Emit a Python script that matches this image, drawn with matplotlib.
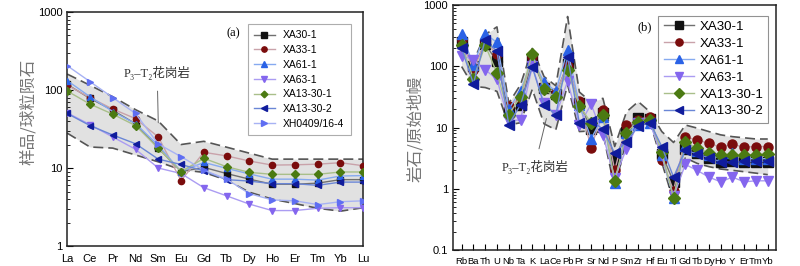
import numpy as np
import matplotlib
matplotlib.use('Agg')
import matplotlib.pyplot as plt

plt.rcParams['font.family'] = ['Liberation Sans', 'DejaVu Sans']

# ---- data: (a) chondrite-normalised REE ----
ree = ['La', 'Ce', 'Pr', 'Nd', 'Sm', 'Eu', 'Gd', 'Tb', 'Dy', 'Ho', 'Er', 'Tm', 'Yb', 'Lu']
names_a = ['XA30-1', 'XA33-1', 'XA61-1', 'XA63-1', 'XA13-30-1', 'XA13-30-2', 'XH0409/16-4']
xa30_1_a = [118, 78, 55, 37, 18, 9.0, 10.2, 8.5, 7.2, 6.2, 6.2, 6.4, 7.1, 7.1]
xa33_1_a = [115, 80, 57, 43, 25, 6.9, 15.9, 14.3, 12.3, 10.9, 11.0, 11.2, 11.7, 10.7]
xa61_1_a = [132, 82, 53, 37, 19.5, 9.0, 11.8, 9.9, 8.4, 7.2, 7.2, 7.0, 7.9, 8.0]
xa63_1_a = [51, 36, 25, 17.4, 10, 8.5, 5.6, 4.4, 3.45, 2.85, 2.85, 3.05, 3.1, 3.1]
xa13_30_1_a = [97, 66, 49, 35, 18, 9.0, 13.3, 10.4, 8.8, 8.3, 8.3, 8.3, 8.9, 8.9]
xa13_30_2_a = [50, 35, 26.5, 20.5, 13, 11.1, 9.2, 7.1, 6.8, 6.3, 6.3, 6.0, 6.6, 6.6]
xh0409_a = [205, 128, 80, 50, 20.3, 14, 9.4, 7.2, 4.7, 3.9, 3.8, 3.4, 3.7, 3.8]
env_a_hi = [160, 115, 82, 56, 40, 20, 22, 18.5, 15.5, 13, 13, 13, 13, 13]
env_a_lo = [28, 18.6, 18, 14.7, 12, 9.5, 8.8, 7.0, 4.9, 4.0, 3.5, 3.05, 2.8, 3.1]

# ---- data: (b) primitive-mantle-normalised spidergram ----
spider = ['Rb', 'Ba', 'Th', 'U', 'Nb', 'Ta', 'K', 'La', 'Ce', 'Pb', 'Pr', 'Sr', 'Nd', 'P',
          'Sm', 'Zr', 'Hf', 'Eu', 'Ti', 'Gd', 'Tb', 'Dy', 'Ho', 'Y', 'Er', 'Tm', 'Yb']
names_b = ['XA30-1', 'XA33-1', 'XA61-1', 'XA63-1', 'XA13-30-1', 'XA13-30-2']
xa30_1_b = [250, 100, 230, 120, 18, 23, 130, 45, 35, 110, 25, 9.5, 17, 3.0, 8.5, 14.5, 14,
            3.7, 1.3, 4.5, 3.8, 3.2, 2.7, 2.8, 2.7, 2.7, 2.7]
xa33_1_b = [265, 87, 250, 160, 22.5, 30, 140, 48, 37, 102, 27, 4.6, 19, 2.0, 11, 13.5, 15,
            3.0, 0.93, 7.0, 6.3, 5.5, 4.8, 5.3, 4.8, 4.9, 4.9]
xa61_1_b = [340, 105, 340, 245, 20, 40, 125, 56, 39, 185, 23, 6.6, 15, 1.25, 8, 11, 12,
            3.5, 0.7, 5.0, 4.2, 3.5, 3.2, 3.8, 3.1, 3.1, 3.1]
xa63_1_b = [150, 128, 88, 61, 13, 13.3, 100, 25, 16, 57, 11, 24, 7.5, 1.5, 4.5, 12, 12,
            3.5, 0.75, 2.5, 2.0, 1.55, 1.3, 1.55, 1.3, 1.35, 1.35]
xa13_30_1_b = [223, 63, 220, 78, 16.3, 32, 160, 42, 31, 86, 22.5, 12, 16, 1.32, 8.3, 12.5,
               13.5, 3.95, 0.7, 5.8, 4.6, 3.9, 3.6, 3.5, 3.5, 3.6, 3.7]
xa13_30_2_b = [196, 52, 270, 175, 11.2, 23.5, 98, 23.4, 16.2, 144, 11.8, 13, 9.4, 3.8, 5.9,
               10.5, 12, 4.9, 1.55, 4.3, 3.7, 3.2, 2.75, 2.7, 2.8, 2.8, 2.8]
env_b_hi = [225, 120, 330, 440, 25, 50, 196, 68, 48, 650, 38, 26, 30, 4.9, 18, 26.5, 18,
            8.6, 5.7, 11, 9.8, 8.6, 7.6, 7.1, 6.8, 6.5, 6.5]
env_b_lo = [99, 47, 45, 39, 11, 12, 42, 11.5, 9.2, 50, 8.6, 8.8, 8.1, 1.0, 6.5, 10.4, 12.5,
            2.7, 0.62, 3.2, 2.6, 2.3, 2.1, 2.0, 1.9, 1.8, 1.7]

series_a = [xa30_1_a, xa33_1_a, xa61_1_a, xa63_1_a, xa13_30_1_a, xa13_30_2_a, xh0409_a]
series_b = [xa30_1_b, xa33_1_b, xa61_1_b, xa63_1_b, xa13_30_1_b, xa13_30_2_b]

# marker, marker colour, line colour
styles = [('s', '#111111', '#707070'),
          ('o', '#7a0c0c', '#c9a2aa'),
          ('^', '#2a62e6', '#86aaf0'),
          ('v', '#8466ee', '#ab9cf2'),
          ('D', '#4b7a12', '#a9bf8a'),
          ('<', '#101c9c', '#6a86d6'),
          ('>', '#5f6ef2', '#a7b2f4')]

cjk_serif = ['Liberation Serif', 'DejaVu Serif', 'Noto Sans CJK SC']

fig = plt.figure(figsize=(8, 2.66), dpi=100)
ax1 = fig.add_axes([0.084, 0.075, 0.370, 0.880])
ax2 = fig.add_axes([0.566, 0.060, 0.404, 0.921])


def envelope(ax, x, lo, hi):
    ax.fill_between(x, lo, hi, color='#e1e1e1', zorder=1, lw=0)
    for v in (lo, hi):
        ax.plot(x, v, color='#555555', lw=1.2, ls=(0, (6, 3)), zorder=2)


# ---- panel (a) ----
xa = np.arange(len(ree))
envelope(ax1, xa, env_a_lo, env_a_hi)
for name, vals, (m, mc, lc) in zip(names_a, series_a, styles):
    ax1.plot(xa, vals, color=lc, lw=1.0, marker=m, ms=4.5 if m != 'D' else 4,
             mfc=mc, mec=mc, label=name, zorder=3)
ax1.set_yscale('log')
ax1.set_ylim(1, 1000)
ax1.set_xlim(0, len(ree) - 1)
ax1.set_xticks(xa)
ax1.set_xticklabels(ree)
ax1.tick_params(axis='x', length=0, labelsize=8, pad=6)
ax1.tick_params(axis='y', which='both', direction='in', labelsize=8)
ax1.tick_params(axis='y', which='major', length=4)
ax1.tick_params(axis='y', which='minor', length=2)
ax1.set_yticks([1, 10, 100, 1000])
ax1.set_yticklabels(['1', '10', '100', '1000'])
leg = ax1.legend(loc='upper right', bbox_to_anchor=(0.975, 0.97), fontsize=7.5,
                 frameon=True, fancybox=False, edgecolor='#999999',
                 handlelength=2.0, labelspacing=0.45, borderpad=0.6,
                 markerscale=0.85)
leg.get_frame().set_linewidth(0.8)
ax1.text(0.56, 0.91, '(a)', transform=ax1.transAxes, fontsize=9,
         family='Liberation Serif', ha='center', va='center')
ax1.annotate('P₃–T₂花岗岩', xy=(4.0, 38), xytext=(3.95, 165), fontsize=9,
             family=cjk_serif, ha='center', va='center', color='#333333',
             arrowprops=dict(arrowstyle='-', color='#666666', lw=0.7,
                             shrinkA=6, shrinkB=0))
fig.text(0.035, 0.58, '样品/球粒陨石', rotation=90, ha='center', va='center',
         fontsize=12, color='#777777', family=['Noto Sans CJK SC'])

# ---- panel (b) ----
xb = np.arange(len(spider))
envelope(ax2, xb, env_b_lo, env_b_hi)
for name, vals, (m, mc, lc) in zip(names_b, series_b, styles):
    ax2.plot(xb, vals, color=lc, lw=1.0, marker=m, ms=6.5 if m != 'D' else 6,
             mfc=mc, mec=mc, label=name, zorder=3)
ax2.set_yscale('log')
ax2.set_ylim(0.1, 1000)
ax2.set_xlim(-0.75, len(spider) - 1 + 0.7)
ax2.set_xticks(xb)
ax2.set_xticklabels(spider)
ax2.tick_params(axis='x', direction='in', length=4, labelsize=6.8, pad=5)
ax2.tick_params(axis='y', which='both', direction='in', labelsize=8)
ax2.tick_params(axis='y', which='major', length=4)
ax2.tick_params(axis='y', which='minor', length=2)
ax2.set_yticks([0.1, 1, 10, 100, 1000])
ax2.set_yticklabels(['0.1', '1', '10', '100', '1000'])
leg = ax2.legend(loc='upper right', bbox_to_anchor=(0.997, 0.984), fontsize=9.5,
                 frameon=True, fancybox=False, edgecolor='#777777',
                 handlelength=2.3, labelspacing=0.35, borderpad=0.4,
                 handletextpad=0.4, markerscale=0.8)
leg.get_frame().set_linewidth(0.8)
ax2.text(0.595, 0.91, '(b)', transform=ax2.transAxes, fontsize=9,
         family='Liberation Serif', ha='center', va='center')
ax2.annotate('P₃–T₂花岗岩', xy=(7.2, 14), xytext=(6.2, 2.3), fontsize=9,
             family=cjk_serif, ha='center', va='center', color='#333333',
             arrowprops=dict(arrowstyle='-', color='#666666', lw=0.7,
                             shrinkA=6, shrinkB=0))
fig.text(0.519, 0.515, '岩石/原始地幔', rotation=90, ha='center', va='center',
         fontsize=12, color='#777777', family=['Noto Sans CJK SC'])

for ax in (ax1, ax2):
    for s in ax.spines.values():
        s.set_linewidth(1.1)
        s.set_color('#222222')

fig.savefig('out.png', dpi=100)
